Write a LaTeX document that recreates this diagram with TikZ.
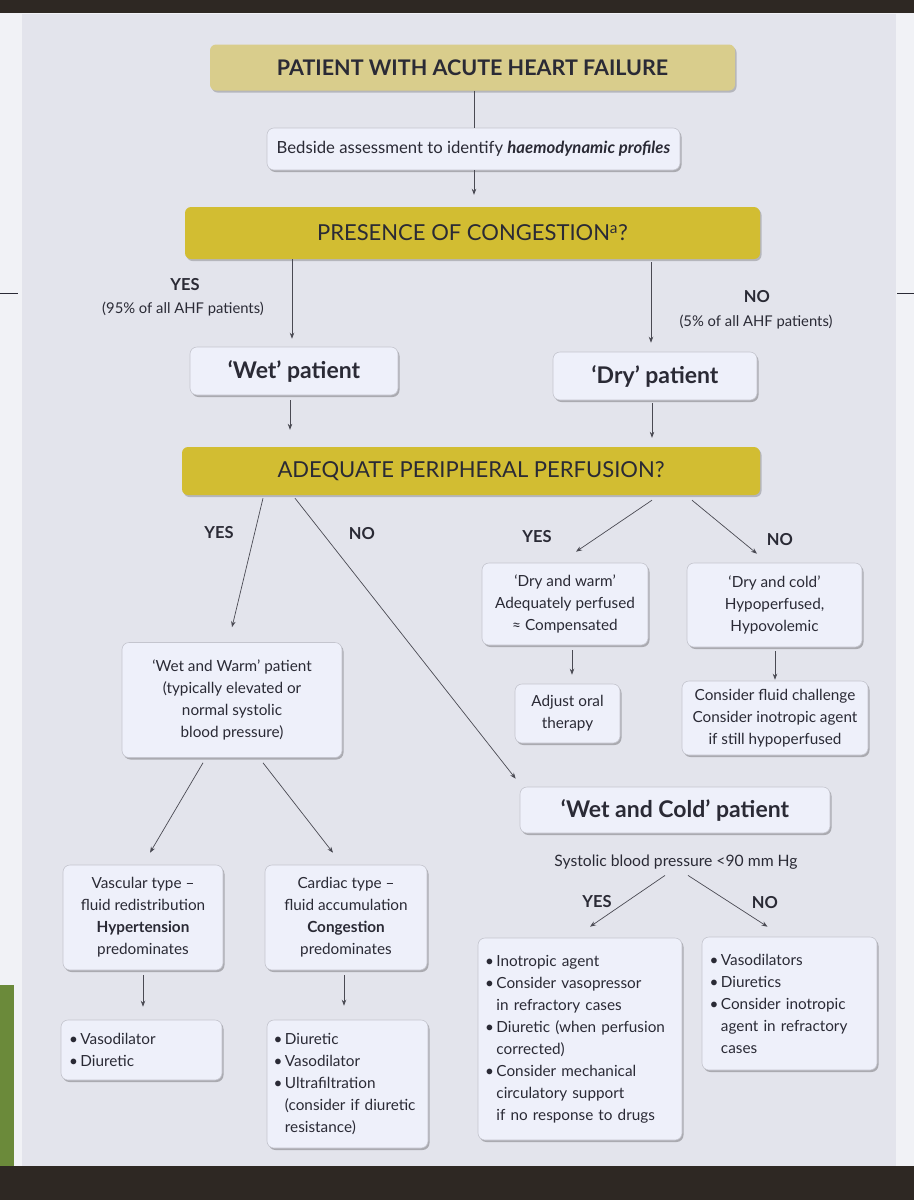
\documentclass[tikz,border=0pt]{standalone}
\usepackage{fontspec}
\setmainfont{Lato}
\usetikzlibrary{shadows,calc,arrows.meta}
\definecolor{pagebg}{HTML}{E3E4EC}
\definecolor{boxfill}{HTML}{EEF0FA}
\definecolor{boxline}{HTML}{C4C5CE}
\definecolor{tanfill}{HTML}{D9CD8C}
\definecolor{goldfill}{HTML}{D2BD32}
\definecolor{ink}{HTML}{2A2A35}
\definecolor{darkband}{HTML}{2E2823}
\definecolor{leafgreen}{HTML}{6B8A3A}
\definecolor{edgewhite}{HTML}{F1F2F6}
\newcommand\bul{\makebox[0.75em][l]{•}}
\newcommand\hang{\hspace*{0.75em}}
\begin{document}
\begin{tikzpicture}[x=1pt,y=-1pt,
  font=\fontsize{15.3}{22}\selectfont, text=ink,
  box/.style={draw=boxline, line width=0.6pt, fill=boxfill, rounded corners=7pt,
    drop shadow={shadow xshift=1.5pt, shadow yshift=-2pt, opacity=0.25, fill=black},
    align=center, inner sep=3pt},
  listbox/.style={box, align=left},
  banner/.style={rounded corners=6pt, align=center, inner sep=2pt,
    drop shadow={shadow xshift=1.5pt, shadow yshift=-2pt, opacity=0.2, fill=black}},
  bigbold/.style={font=\fontsize{23}{25}\selectfont\bfseries},
  lbl/.style={font=\fontsize{16.5}{18}\selectfont\bfseries, inner sep=0pt},
  sub/.style={font=\fontsize{14.8}{16}\selectfont, inner sep=0pt},
  conn/.style={draw=ink!85, line width=0.7pt},
  arr/.style={conn, -{Stealth[length=6pt,width=4.5pt]}},
]
\useasboundingbox (0,0) rectangle (914,1200);
% photo surroundings
\fill[edgewhite] (0,0) rectangle (914,1200);
\fill[leafgreen] (0,985) rectangle (14,1170);
\fill[pagebg] (22,14) rectangle (896,1166);
\fill[darkband] (0,0) rectangle (914,13);
\fill[darkband] (0,1166) rectangle (914,1200);
\draw[ink, line width=0.8pt] (0,293) -- (18,293);
\draw[ink, line width=0.8pt] (897,293) -- (914,293);

% nodes
\node[banner, fill=tanfill, minimum width=525, minimum height=46,
  font=\fontsize{21.5}{23}\selectfont\bfseries] (title) at (472.5,67.5) {PATIENT WITH ACUTE HEART FAILURE};
\node[box, minimum width=413, minimum height=42, font=\fontsize{16.7}{18}\selectfont] (bedside) at (473.5,149)
  {Bedside assessment to identify \textbf{\itshape haemodynamic profiles}};
\node[banner, fill=goldfill, minimum width=575, minimum height=52,
  font=\fontsize{22}{24}\selectfont] (cong) at (472.5,233) {PRESENCE OF CONGESTION\textsuperscript{a}?};

\node[lbl] (yes1) at (185,285) {YES};
\node[sub] (yes1s) at (183,309) {(95\% of all AHF patients)};
\node[lbl] (no1) at (757,297) {NO};
\node[sub] (no1s) at (756,322) {(5\% of all AHF patients)};

\node[box, minimum width=208, minimum height=48, bigbold] (wet) at (294,371) {‘Wet’ patient};
\node[box, minimum width=204, minimum height=48, bigbold] (dry) at (655,376) {‘Dry’ patient};

\node[banner, fill=goldfill, minimum width=578, minimum height=48,
  font=\fontsize{22}{24}\selectfont] (perf) at (471,471) {ADEQUATE PERIPHERAL PERFUSION?};

\node[lbl] (yes2) at (219,533) {YES};
\node[lbl] (no2) at (362,534) {NO};
\node[lbl] (yes3) at (537,537) {YES};
\node[lbl] (no3) at (780,540) {NO};

\node[box, minimum width=166, minimum height=82] (drywarm) at (565,604)
  {‘Dry and warm’\\Adequately perfused\\≈ Compensated};
\node[box, minimum width=175, minimum height=84] (drycold) at (774.5,605)
  {‘Dry and cold’\\Hypoperfused,\\Hypovolemic};
\node[box, minimum width=105, minimum height=59] (adjust) at (567.5,713.5)
  {Adjust oral\\therapy};
\node[box, minimum width=186, minimum height=74] (fluid) at (775,718)
  {Consider fluid challenge\\Consider inotropic agent\\if still hypoperfused};

\node[box, minimum width=220, minimum height=115] (wetwarm) at (232,700)
  {‘Wet and Warm’ patient\\(typically elevated or\\normal systolic\\blood pressure)};

\node[box, minimum width=310, minimum height=46, bigbold] (wetcold) at (675,810)
  {‘Wet and Cold’ patient};
\node[inner sep=1pt, font=\fontsize{15.7}{17}\selectfont] (sbp) at (676,862) {Systolic blood pressure <90 mm Hg};
\node[lbl] (yes4) at (597,902) {YES};
\node[lbl] (no4) at (765,903) {NO};

\node[box, minimum width=160, minimum height=105] (vasc) at (143,917.5)
  {Vascular type –\\fluid redistribution\\\textbf{Hypertension}\\predominates};
\node[box, minimum width=162, minimum height=105] (card) at (346,917.5)
  {Cardiac type –\\fluid accumulation\\\textbf{Congestion}\\predominates};

\node[listbox, minimum width=161, minimum height=60, text width=145] (vasodil) at (141.5,1050)
  {\bul Vasodilator\\\bul Diuretic};
\node[listbox, minimum width=161, minimum height=128, text width=148] (diur) at (347.5,1084)
  {\bul Diuretic\\\bul Vasodilator\\\bul Ultrafiltration\\\hang(consider if diuretic\\\hang resistance)};
\node[listbox, minimum width=204, minimum height=202, text width=190] (ino) at (580,1039)
  {\bul Inotropic agent\\\bul Consider vasopressor\\\hang in refractory cases\\\bul Diuretic (when perfusion\\\hang corrected)\\\bul Consider mechanical\\\hang circulatory support\\\hang if no response to drugs};
\node[listbox, minimum width=175, minimum height=133, text width=160] (vasos) at (789.5,1003.5)
  {\bul Vasodilators\\\bul Diuretics\\\bul Consider inotropic\\\hang agent in refractory\\\hang cases};

% connectors
\coordinate (axis) at (474,0);
\draw[conn] (title.south -| axis) -- (bedside.north -| axis);
\draw[arr] (bedside.south -| axis) -- ([yshift=12pt]cong.north -| axis);
\draw[arr] ([xshift=-2pt]cong.south -| wet) -- ([xshift=-2pt,yshift=8pt]wet.north);
\draw[arr] ([xshift=-4pt,yshift=-3pt]cong.south -| dry) -- ([xshift=-4pt,yshift=9pt]dry.north);
\draw[arr] ([xshift=-4pt,yshift=-5pt]wet.south) -- ([xshift=-4pt,yshift=17pt]perf.north -| wet);
\draw[arr] ([xshift=-3pt,yshift=-3pt]dry.south) -- ([xshift=-3pt,yshift=9pt]perf.north -| dry);
\draw[arr] ([xshift=-208pt,yshift=-3pt]perf.south) -- ([yshift=15pt]wetwarm.north);
\draw[arr] ([xshift=-176pt,yshift=-3pt]perf.south) -- ([xshift=-4pt,yshift=8pt]wetcold.north west);
\draw[arr] ([xshift=181pt,yshift=-5pt]perf.south) -- ([xshift=11pt,yshift=11pt]drywarm.north);
\draw[arr] ([xshift=221pt,yshift=-5pt]perf.south) -- ([xshift=-17.5pt,yshift=9pt]drycold.north);
\draw[arr] ([xshift=4.5pt,yshift=-5pt]drywarm.south -| adjust) -- ([xshift=4.5pt,yshift=9pt]adjust.north);
\draw[arr] ([yshift=-4pt]drycold.south -| fluid) -- ([yshift=1pt]fluid.north);
\draw[arr] ([xshift=-29pt,yshift=-5pt]wetwarm.south) -- ([xshift=7pt,yshift=12pt]vasc.north);
\draw[arr] ([xshift=31pt,yshift=-5pt]wetwarm.south) -- ([xshift=-13pt,yshift=12pt]card.north);
\draw[arr] ([xshift=-11pt,yshift=-5pt]sbp.south) -- ([xshift=10pt,yshift=11pt]ino.north);
\draw[arr] ([xshift=12pt,yshift=-5pt]sbp.south) -- ([xshift=-22pt,yshift=10pt]vasos.north);
\draw[arr] ([yshift=-5pt]vasc.south) -- ([yshift=13pt]vasodil.north -| vasc);
\draw[arr] ([yshift=-5pt]card.south -| 344,0) -- ([yshift=14pt]diur.north -| 344,0);
\end{tikzpicture}
\end{document}
